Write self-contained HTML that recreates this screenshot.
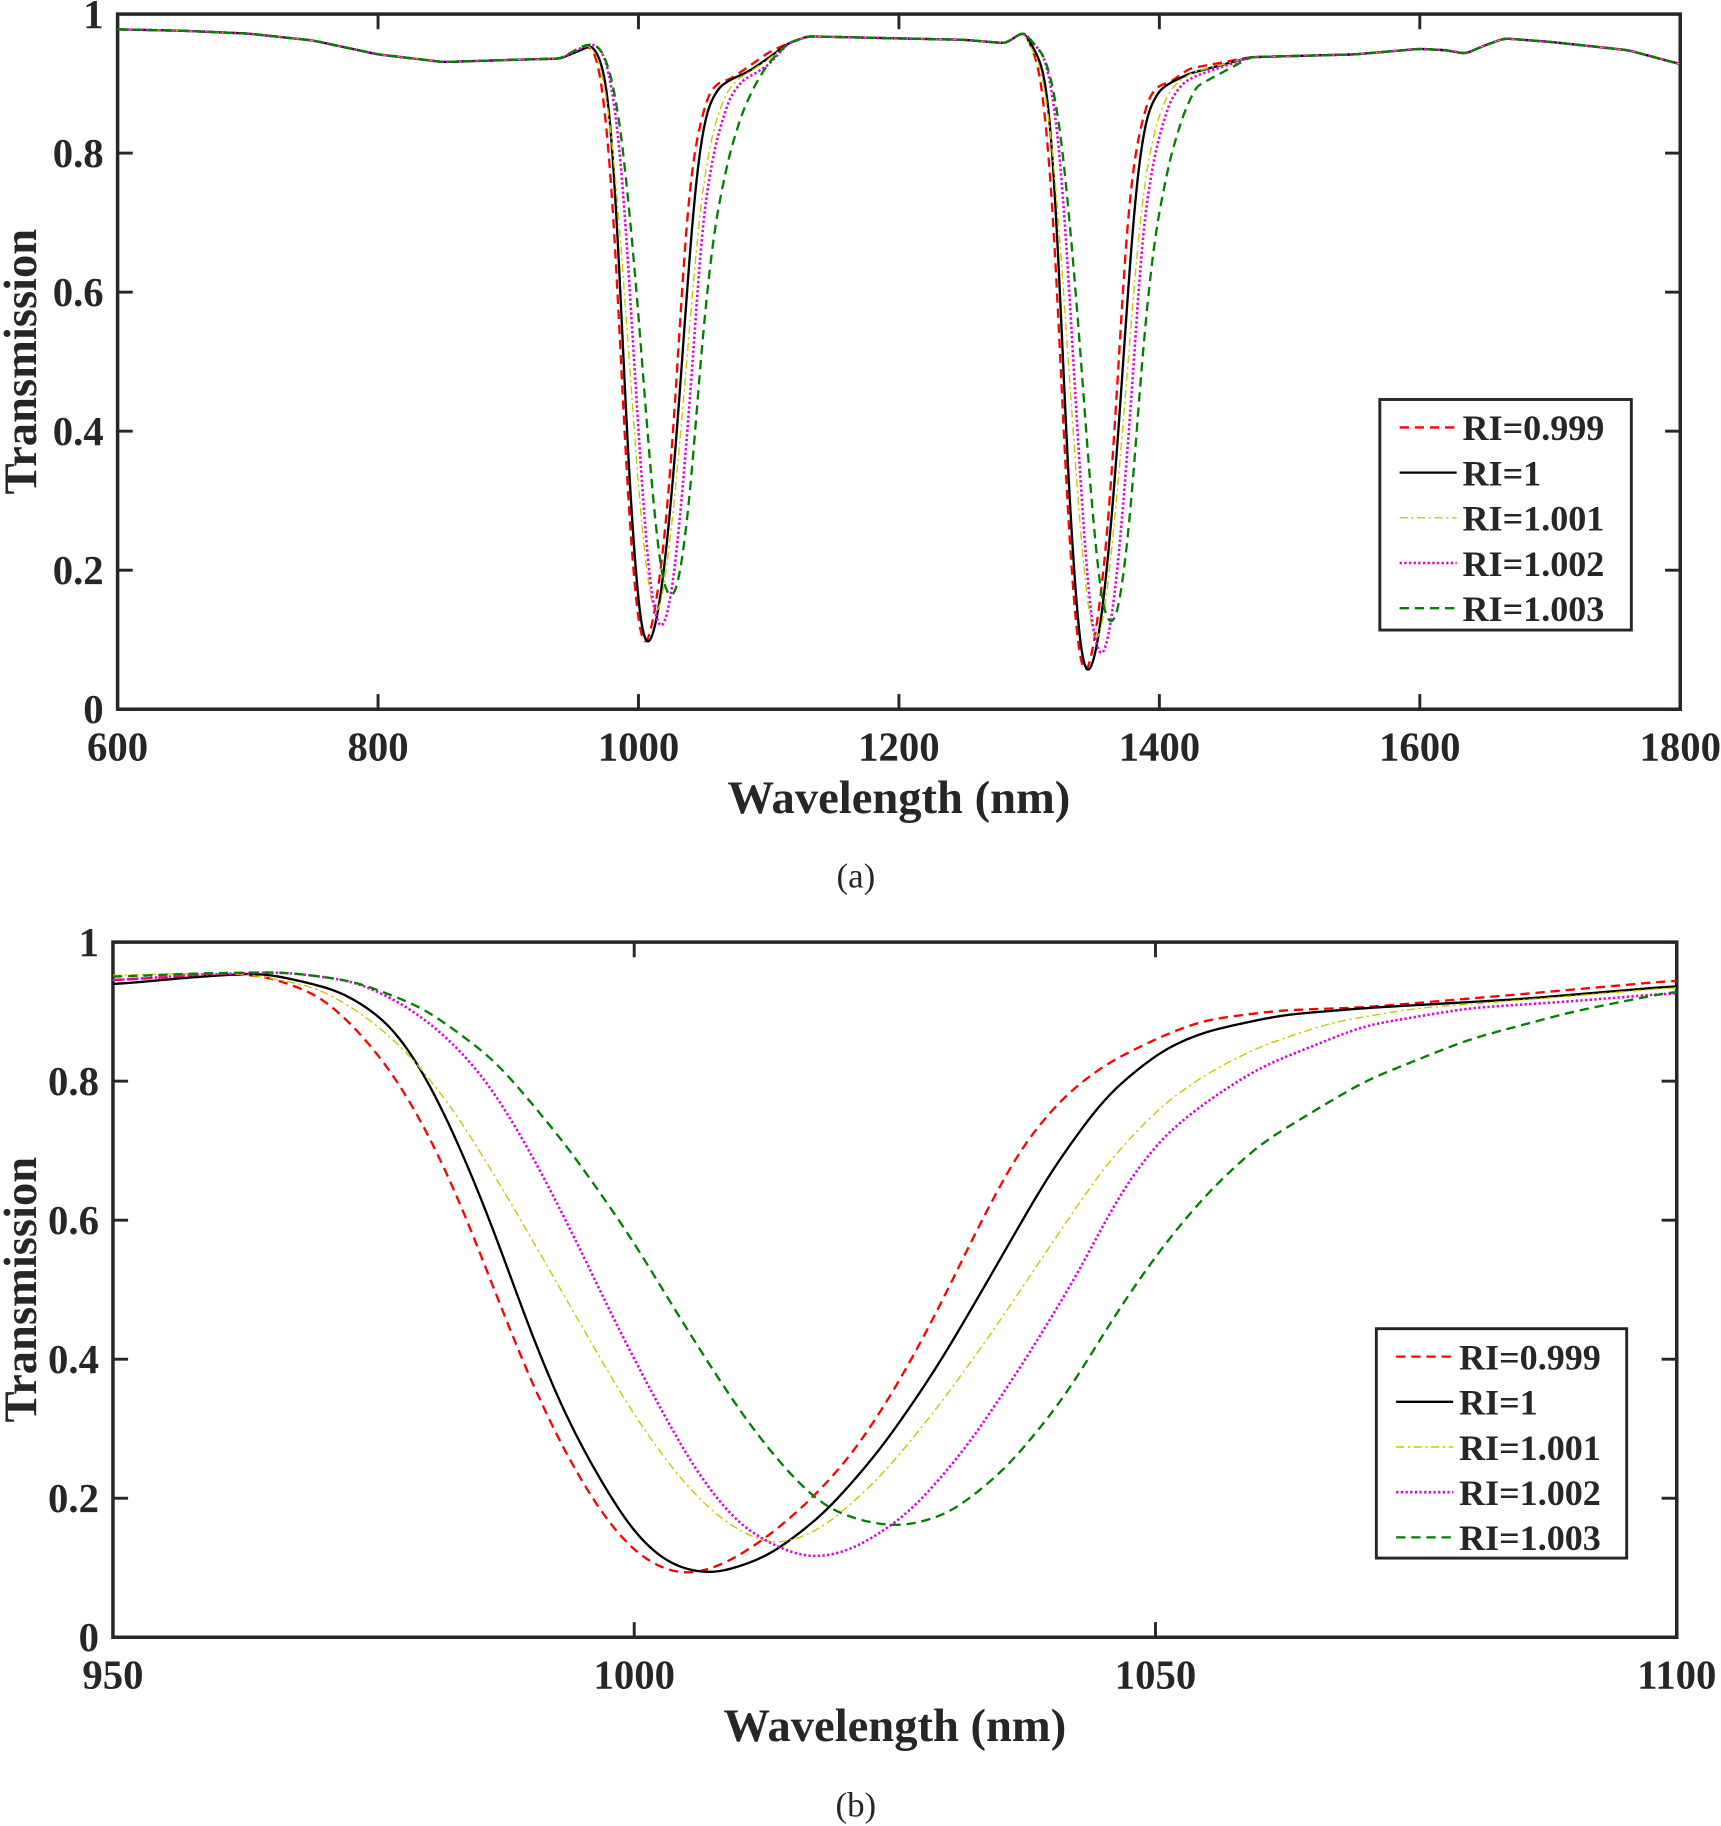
<!DOCTYPE html>
<html><head><meta charset="utf-8"><style>
html,body{margin:0;padding:0;background:#fff;}
svg{display:block}
text{font-family:"Liberation Serif",serif;fill:#262626;font-weight:bold}
</style></head><body>
<svg id="s" width="1721" height="1826" viewBox="0 0 1478 1568" xmlns="http://www.w3.org/2000/svg">
<g id="g"></g>
</svg>
<script>
const NS="http://www.w3.org/2000/svg";
const G=document.getElementById('g');
function el(t,a,txt){const e=document.createElementNS(NS,t);for(const k in a)e.setAttribute(k,a[k]);if(txt!=null)e.textContent=txt;G.appendChild(e);return e;}
const D={
red:[[950,.945],[958,.952],[964.1,.954],[969.9,.924],[973.2,.878],[976.6,.818],[980,.733],[983.3,.627],[986.7,.495],[990,.37],[993.4,.264],[996.8,.178],[1000.1,.119],[1003.5,.092],[1005.5,.089],[1008.9,.106],[1012.9,.145],[1017,.198],[1021,.264],[1025,.356],[1029.1,.469],[1033.1,.594],[1037.1,.706],[1041.2,.779],[1045.2,.825],[1050.6,.865],[1054.6,.888],[1062,.902],[1070,.906],[1085,.925],[1100,.945]],
black:[[950,.939],[958,.95],[964.5,.956],[971.9,.93],[976.6,.884],[979.9,.812],[983.3,.706],[986.7,.58],[990,.44],[993.4,.317],[996.8,.224],[1000.1,.145],[1003.5,.102],[1007.5,.089],[1012.9,.116],[1018.3,.178],[1023.7,.271],[1029.1,.389],[1034.5,.528],[1039.8,.667],[1045.2,.779],[1050.6,.845],[1054.6,.871],[1062,.895],[1070,.905],[1085,.918],[1100,.937]],
yellow:[[950,.952],[958,.955],[963.1,.954],[969.9,.934],[975.2,.884],[979.3,.825],[983.3,.746],[987.3,.647],[991.4,.541],[995.4,.436],[999.5,.33],[1003.5,.244],[1007.5,.178],[1011.6,.139],[1014.3,.132],[1018.3,.158],[1023.7,.231],[1029.1,.33],[1034.5,.442],[1039.8,.561],[1045.2,.68],[1050.6,.766],[1055,.812],[1060,.85],[1067,.885],[1075,.905],[1088,.92],[1100,.935]],
magenta:[[950,.945],[958,.953],[966.5,.957],[973.2,.944],[977.9,.911],[982,.865],[986,.799],[990,.7],[994.1,.581],[998.1,.455],[1002.2,.337],[1006.2,.231],[1010.2,.158],[1014.3,.125],[1017,.112],[1021,.125],[1026.4,.178],[1031.8,.271],[1037.1,.389],[1042.5,.521],[1046.6,.64],[1050.6,.72],[1055,.772],[1060,.82],[1070,.88],[1080,.905],[1090,.915],[1100,.927]],
green:[[950,.95],[958,.955],[966.5,.957],[973.2,.944],[979.9,.905],[986.7,.83],[993.4,.71],[999.5,.58],[1004.8,.449],[1010.2,.323],[1014.3,.244],[1018.3,.185],[1022.3,.165],[1025.7,.158],[1030.4,.178],[1035.8,.244],[1041.2,.343],[1046.6,.475],[1050.6,.561],[1055,.64],[1060,.71],[1070,.8],[1080,.86],[1090,.9],[1100,.93]]
};
const style={red:{c:'#ff0000',w:2,d:'8,5'},black:{c:'#000',w:2,d:''},yellow:{c:'#c8c800',w:1.2,d:'7,3,2,3'},magenta:{c:'#e000e0',w:2.2,d:'2,2'},green:{c:'#008000',w:2,d:'8,5'}};
function lin(pts,x){if(x<=pts[0][0])return pts[0][1];for(let i=0;i<pts.length-1;i++){if(x<=pts[i+1][0]){const t=(x-pts[i][0])/(pts[i+1][0]-pts[i][0]);return pts[i][1]+t*(pts[i+1][1]-pts[i][1]);}}return pts[pts.length-1][1];}
function smooth(pts,step,sig){const a=pts[0][0],b=pts[pts.length-1][0];const xs=[],ys=[];for(let x=a;x<=b+1e-9;x+=step){xs.push(x);ys.push(lin(pts,x));}
 const r=Math.ceil(3*sig/step),out=[];for(let i=0;i<xs.length;i++){let s=0,w=0;for(let j=-r;j<=r;j++){const k=Math.min(xs.length-1,Math.max(0,i+j));const ww=Math.exp(-0.5*(j*step/sig)**2);s+=ww*ys[k];w+=ww;}out.push([xs[i],s/w]);}return out;}
function pth(p){return 'M'+p.map(q=>q[0].toFixed(2)+','+q[1].toFixed(2)).join('L');}
function axes(L,R,T,B,xt,xmin,xmax){
 el('rect',{x:L,y:T,width:R-L,height:B-T,fill:'none',stroke:'#262626','stroke-width':3});
 xt.forEach(v=>{const x=L+(v-xmin)/(xmax-xmin)*(R-L);el('line',{x1:x,y1:B,x2:x,y2:B-13,stroke:'#262626','stroke-width':2.5});el('line',{x1:x,y1:T,x2:x,y2:T+13,stroke:'#262626','stroke-width':2.5});
 el('text',{x:x,y:B+44,'text-anchor':'middle','font-size':35},String(v));});
 [0,.2,.4,.6,.8,1].forEach(v=>{const y=B-v*(B-T);el('line',{x1:L,y1:y,x2:L+13,y2:y,stroke:'#262626','stroke-width':2.5});el('line',{x1:R,y1:y,x2:R-13,y2:y,stroke:'#262626','stroke-width':2.5});
 el('text',{x:L-12,y:y+12,'text-anchor':'end','font-size':35},v==0?'0':v==1?'1':v.toFixed(1));});
 el('text',{x:(L+R)/2,y:B+89,'text-anchor':'middle','font-size':40},'Wavelength (nm)');
 const cy=(T+B)/2;el('text',{x:31,y:cy,'text-anchor':'middle','font-size':40,transform:'rotate(-90 31 '+cy+')'},'Transmission');
}
function legend(x,y,w,h){el('rect',{x:x,y:y,width:w,height:h,fill:'#fff',stroke:'#262626','stroke-width':2.5});
 const names=[['red','RI=0.999'],['black','RI=1'],['yellow','RI=1.001'],['magenta','RI=1.002'],['green','RI=1.003']];
 names.forEach((n,i)=>{const yy=y+24+i*38.8;const s=style[n[0]];el('line',{x1:x+17,y1:yy,x2:x+66,y2:yy,stroke:s.c,'stroke-width':s.w,'stroke-dasharray':s.d});
 el('text',{x:x+71,y:yy+11,'font-size':31,fill:'#262626'},n[1]);});}
(function(){const L=101,R=1443,T=12,B=609;const X=v=>L+(v-600)/1200*(R-L),Y=v=>B-v*(B-T);
 const pre=[[600,.978],[650,.976],[700,.972],[750,.962],[800,.942],[850,.931],[900,.934],[940,.936]];
 const mid=[[1115,.958],[1130,.968],[1200,.965],[1250,.963],[1282,.958]];
 const post=[[1470,.938],[1550,.942],[1600,.95],[1620,.948],[1635,.943],[1650,.955],[1665,.965],[1700,.96],[1760,.948],[1800,.928]];
 axes(L,R,T,B,[600,800,1000,1200,1400,1600,1800],600,1800);
 ['red','black','yellow','magenta','green'].forEach(k=>{const d=D[k].filter(p=>p[0]>955);
  const d2=d.map(p=>[p[0]+338,Math.max(0,1-(1-p[1])*1.045)]).filter(p=>p[0]<1438);
  d2[0][1]=.975;
  const all=smooth([...pre,...d,...mid,...d2,...post],0.5,2.5);const s=style[k];
  el('path',{d:pth(all.map(p=>[X(p[0]),Y(p[1])])),fill:'none',stroke:s.c,'stroke-width':s.w,'stroke-dasharray':s.d});});
 legend(1185,343,216,198);
 el('text',{x:735,y:762,'text-anchor':'middle','font-size':30,style:'font-weight:normal'},'(a)');
})();
(function(){const L=97,R=1440,T=809,B=1406;const X=v=>L+(v-950)/150*(R-L),Y=v=>B-v*(B-T);
 axes(L,R,T,B,[950,1000,1050,1100],950,1100);
 ['red','black','yellow','magenta','green'].forEach(k=>{const s=style[k];
  const p=smooth(D[k],0.2,1.6);
  el('path',{d:pth(p.map(q=>[X(q[0]),Y(q[1])])),fill:'none',stroke:s.c,'stroke-width':s.w,'stroke-dasharray':s.d});});
 legend(1182,1141,215,197);
 el('text',{x:735,y:1560,'text-anchor':'middle','font-size':30,style:'font-weight:normal'},'(b)');
})();
</script>
</body></html>
